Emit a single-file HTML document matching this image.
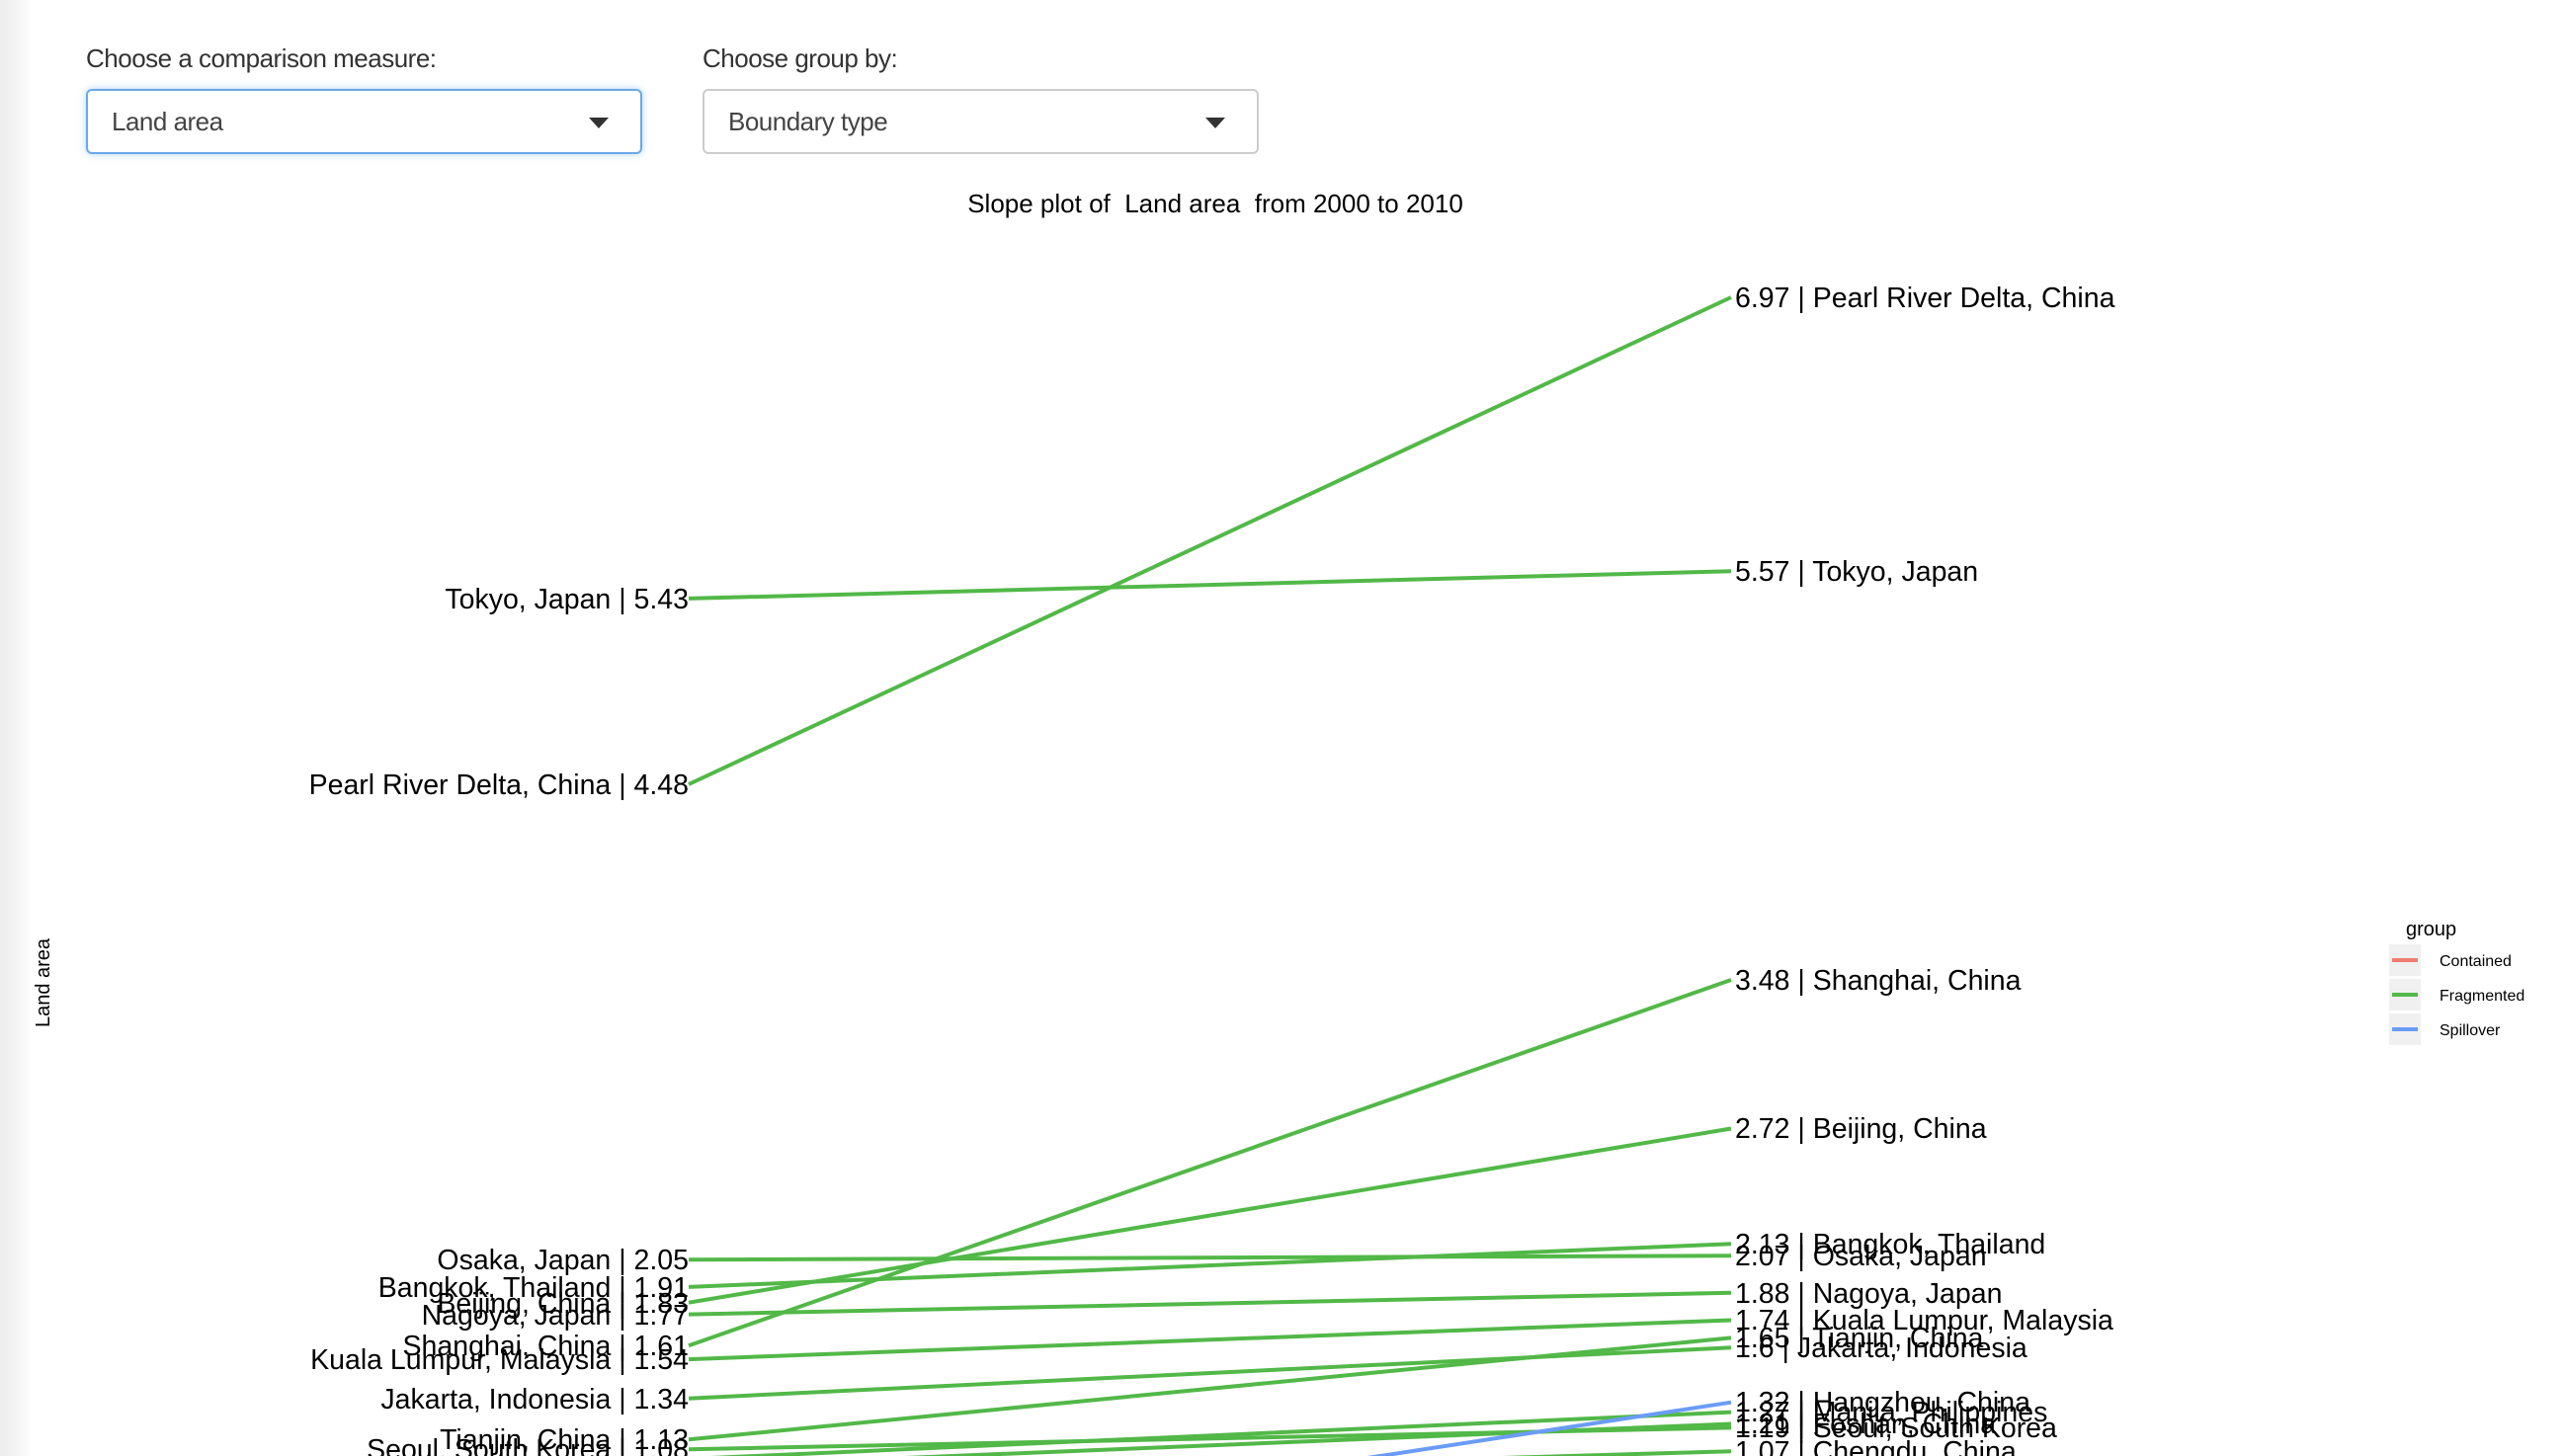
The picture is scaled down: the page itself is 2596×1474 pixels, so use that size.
<!DOCTYPE html>
<html><head><meta charset="utf-8"><style>
html,body{margin:0;padding:0;width:2596px;height:1474px;overflow:hidden;background:#fff;font-family:"Liberation Sans",sans-serif;}
.strip{position:absolute;left:0;top:0;width:32px;height:1474px;background:linear-gradient(to right,#ececec,#f7f7f7 70%,#fff);}
.lbl{position:absolute;font-size:26px;color:#333;letter-spacing:-0.5px;}
.sel{position:absolute;height:66px;border:2px solid #ccc;border-radius:6px;box-sizing:border-box;font-size:26px;color:#444;line-height:62px;padding-left:24px;letter-spacing:-0.5px;}
.sel.f{border-color:#6aa8e8;box-shadow:0 0 8px rgba(102,175,233,.5);}
.sel .ar{position:absolute;right:32px;top:27px;width:0;height:0;border-left:10px solid transparent;border-right:10px solid transparent;border-top:11px solid #333;}
</style></head><body>
<div class="strip"></div>
<div class="lbl" style="left:87px;top:44px">Choose a comparison measure:</div>
<div class="lbl" style="left:711px;top:44px">Choose group by:</div>
<div class="sel f" style="left:87px;top:90px;width:563px">Land area<div class="ar"></div></div>
<div class="sel" style="left:711px;top:90px;width:563px">Boundary type<div class="ar"></div></div>
<div style="position:absolute;left:0;top:0;width:2596px;height:1474px;overflow:hidden">
<svg width="2596" height="1474" style="position:absolute;left:0;top:0" font-family="Liberation Sans, sans-serif">
<text x="1230" y="215" font-size="26" text-anchor="middle" fill="#000" xml:space="preserve">Slope plot of  Land area  from 2000 to 2010</text>
<text transform="translate(50,995) rotate(-90)" font-size="20" text-anchor="middle" fill="#000">Land area</text>
<g stroke="#52b848" stroke-width="4" fill="none">
<line x1="697" y1="605.9" x2="1752" y2="578.2"/>
<line x1="697" y1="794" x2="1752" y2="301"/>
<line x1="697" y1="1275.2" x2="1752" y2="1271.2"/>
<line x1="697" y1="1302.9" x2="1752" y2="1259.3"/>
<line x1="697" y1="1318.7" x2="1752" y2="1142.5"/>
<line x1="697" y1="1330.6" x2="1752" y2="1308.8"/>
<line x1="697" y1="1362.3" x2="1752" y2="992"/>
<line x1="697" y1="1376.1" x2="1752" y2="1336.5"/>
<line x1="697" y1="1415.7" x2="1752" y2="1364.3"/>
<line x1="697" y1="1457.3" x2="1752" y2="1354.4"/>
<line x1="697" y1="1467.2" x2="1752" y2="1445.4"/>
<line x1="697" y1="1477" x2="1752" y2="1429.6"/>
<line x1="697" y1="1485" x2="1752" y2="1441.5"/>
<line x1="697" y1="1500" x2="1752" y2="1469.2"/>
</g>
<line x1="697" y1="1581" x2="1752" y2="1419.7" stroke="#6a9cf7" stroke-width="4"/>
<g font-size="28.5" fill="#000" text-anchor="end">
<text x="697" y="616">Tokyo, Japan | 5.43</text>
<text x="697" y="804">Pearl River Delta, China | 4.48</text>
<text x="697" y="1285">Osaka, Japan | 2.05</text>
<text x="697" y="1313">Bangkok, Thailand | 1.91</text>
<text x="697" y="1329">Beijing, China | 1.83</text>
<text x="697" y="1341">Nagoya, Japan | 1.77</text>
<text x="697" y="1372">Shanghai, China | 1.61</text>
<text x="697" y="1386">Kuala Lumpur, Malaysia | 1.54</text>
<text x="697" y="1426">Jakarta, Indonesia | 1.34</text>
<text x="697" y="1467">Tianjin, China | 1.13</text>
<text x="697" y="1477">Seoul, South Korea | 1.08</text>
</g>
<g font-size="28.5" fill="#000">
<text x="1756" y="311">6.97 | Pearl River Delta, China</text>
<text x="1756" y="588">5.57 | Tokyo, Japan</text>
<text x="1756" y="1002">3.48 | Shanghai, China</text>
<text x="1756" y="1152">2.72 | Beijing, China</text>
<text x="1756" y="1269">2.13 | Bangkok, Thailand</text>
<text x="1756" y="1281">2.07 | Osaka, Japan</text>
<text x="1756" y="1319">1.88 | Nagoya, Japan</text>
<text x="1756" y="1346">1.74 | Kuala Lumpur, Malaysia</text>
<text x="1756" y="1364">1.65 | Tianjin, China</text>
<text x="1756" y="1374">1.6 | Jakarta, Indonesia</text>
<text x="1756" y="1429">1.32 | Hangzhou, China</text>
<text x="1756" y="1439">1.27 | Manila, Philippines</text>
<text x="1756" y="1451">1.21 | Foshan, China</text>
<text x="1756" y="1455">1.19 | Seoul, South Korea</text>
<text x="1756" y="1479">1.07 | Chengdu, China</text>
</g>
<text x="2435" y="947" font-size="20" fill="#000">group</text>
<g>
<rect x="2418" y="956" width="32" height="32" fill="#f0f0f0"/>
<rect x="2418" y="991" width="32" height="32" fill="#f0f0f0"/>
<rect x="2418" y="1026" width="32" height="32" fill="#f0f0f0"/>
<line x1="2421" y1="972" x2="2447" y2="972" stroke="#f07c70" stroke-width="4"/>
<line x1="2421" y1="1007" x2="2447" y2="1007" stroke="#52b848" stroke-width="4"/>
<line x1="2421" y1="1042" x2="2447" y2="1042" stroke="#6a9cf7" stroke-width="4"/>
</g>
<g font-size="16" fill="#000">
<text x="2469" y="978">Contained</text>
<text x="2469" y="1013">Fragmented</text>
<text x="2469" y="1048">Spillover</text>
</g>
</svg>
</div>
</body></html>
